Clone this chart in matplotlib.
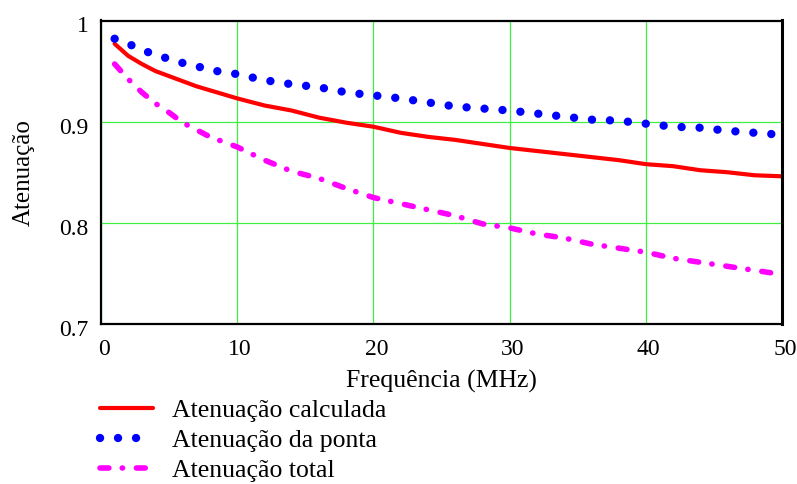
import matplotlib
matplotlib.use('Agg')
import matplotlib.pyplot as plt
import matplotlib.transforms as mtransforms

plt.rcParams['font.family'] = ['Liberation Serif', 'DejaVu Serif']

# Frequency points (MHz) and attenuation curves
freq = [1, 2, 3, 4, 5, 6, 7, 8, 10, 12, 14, 16, 18, 20, 22, 24, 26, 28,
        30, 32, 34, 36, 38, 40, 42, 44, 46, 48, 50]
aten_calculada = [0.977, 0.965, 0.957, 0.950, 0.945, 0.940, 0.935, 0.931,
                  0.923, 0.916, 0.911, 0.904, 0.899, 0.895, 0.889, 0.885,
                  0.882, 0.878, 0.874, 0.871, 0.868, 0.865, 0.862, 0.858,
                  0.856, 0.852, 0.850, 0.847, 0.846]
aten_ponta = [0.982, 0.977, 0.971, 0.966, 0.962, 0.958, 0.955, 0.951,
              0.947, 0.941, 0.937, 0.934, 0.929, 0.926, 0.923, 0.919,
              0.915, 0.913, 0.911, 0.908, 0.905, 0.902, 0.901, 0.898,
              0.895, 0.894, 0.891, 0.889, 0.887]
aten_total = [0.957, 0.942, 0.929, 0.918, 0.909, 0.899, 0.892, 0.885,
              0.875, 0.862, 0.851, 0.844, 0.834, 0.825, 0.819, 0.813,
              0.807, 0.799, 0.795, 0.789, 0.785, 0.779, 0.775, 0.771,
              0.765, 0.761, 0.757, 0.753, 0.749]

xticks = [0, 10, 20, 30, 40, 50]
yticks = [0.7, 0.8, 0.9, 1.0]
yticklabels = ['0.7', '0.8', '0.9', '1']

fig = plt.figure(figsize=(7.97, 4.84), dpi=100)
ax = fig.add_axes([101 / 797, 1 - 324 / 484, 681 / 797, 303.5 / 484])

ax.plot(freq, aten_calculada, color='#ff0000', lw=3.0,
        solid_capstyle='round', label='Atenuação calculada')
ax.plot(freq, aten_ponta, color='#0000ff', lw=6, linestyle=(0, (0.01, 2.15)),
        dash_capstyle='round', label='Atenuação da ponta')
ax.plot(freq, aten_total, color='#ff00ff', lw=4,
        linestyle=(0, (1.6, 2.4, 0.05, 2.5)), dash_capstyle='round',
        label='Atenuação total')

ax.set_xlim(0, 50)
ax.set_ylim(0.7, 1.0)
ax.set_xticks(xticks)
ax.set_yticks(yticks)
ax.set_yticklabels(yticklabels)
ax.tick_params(length=0, labelsize=17)
ax.tick_params(axis='x', pad=11)
ax.tick_params(axis='y', pad=9)
ax.grid(True, color='#40f040', lw=0.9)
ax.set_axisbelow(True)
for sp in ax.spines.values():
    sp.set_linewidth(1.6)
    sp.set_color('black')
ax.spines['right'].set_linewidth(2.2)

# nudge tick labels a little down / right
dy = mtransforms.ScaledTranslation(0, -4 / 100, fig.dpi_scale_trans)
for lbl in ax.get_yticklabels():
    lbl.set_transform(lbl.get_transform() + dy)
dx = mtransforms.ScaledTranslation(3 / 100, 0, fig.dpi_scale_trans)
for lbl in ax.get_xticklabels():
    lbl.set_transform(lbl.get_transform() + dx)

ax.set_xlabel('Frequência (MHz)', fontsize=18.5)
ax.xaxis.set_label_coords(0.5, -0.152)
ax.set_ylabel('Atenuação', fontsize=18)
ax.yaxis.set_label_coords(-0.097, 0.5)

fig.legend(loc='upper left', bbox_to_anchor=(100 / 797, 1 - 399 / 484),
           frameon=False, fontsize=18.5, borderpad=0, borderaxespad=0,
           handlelength=2.06, handletextpad=0.74, labelspacing=0.28)

fig.savefig('out.png', dpi=100)
